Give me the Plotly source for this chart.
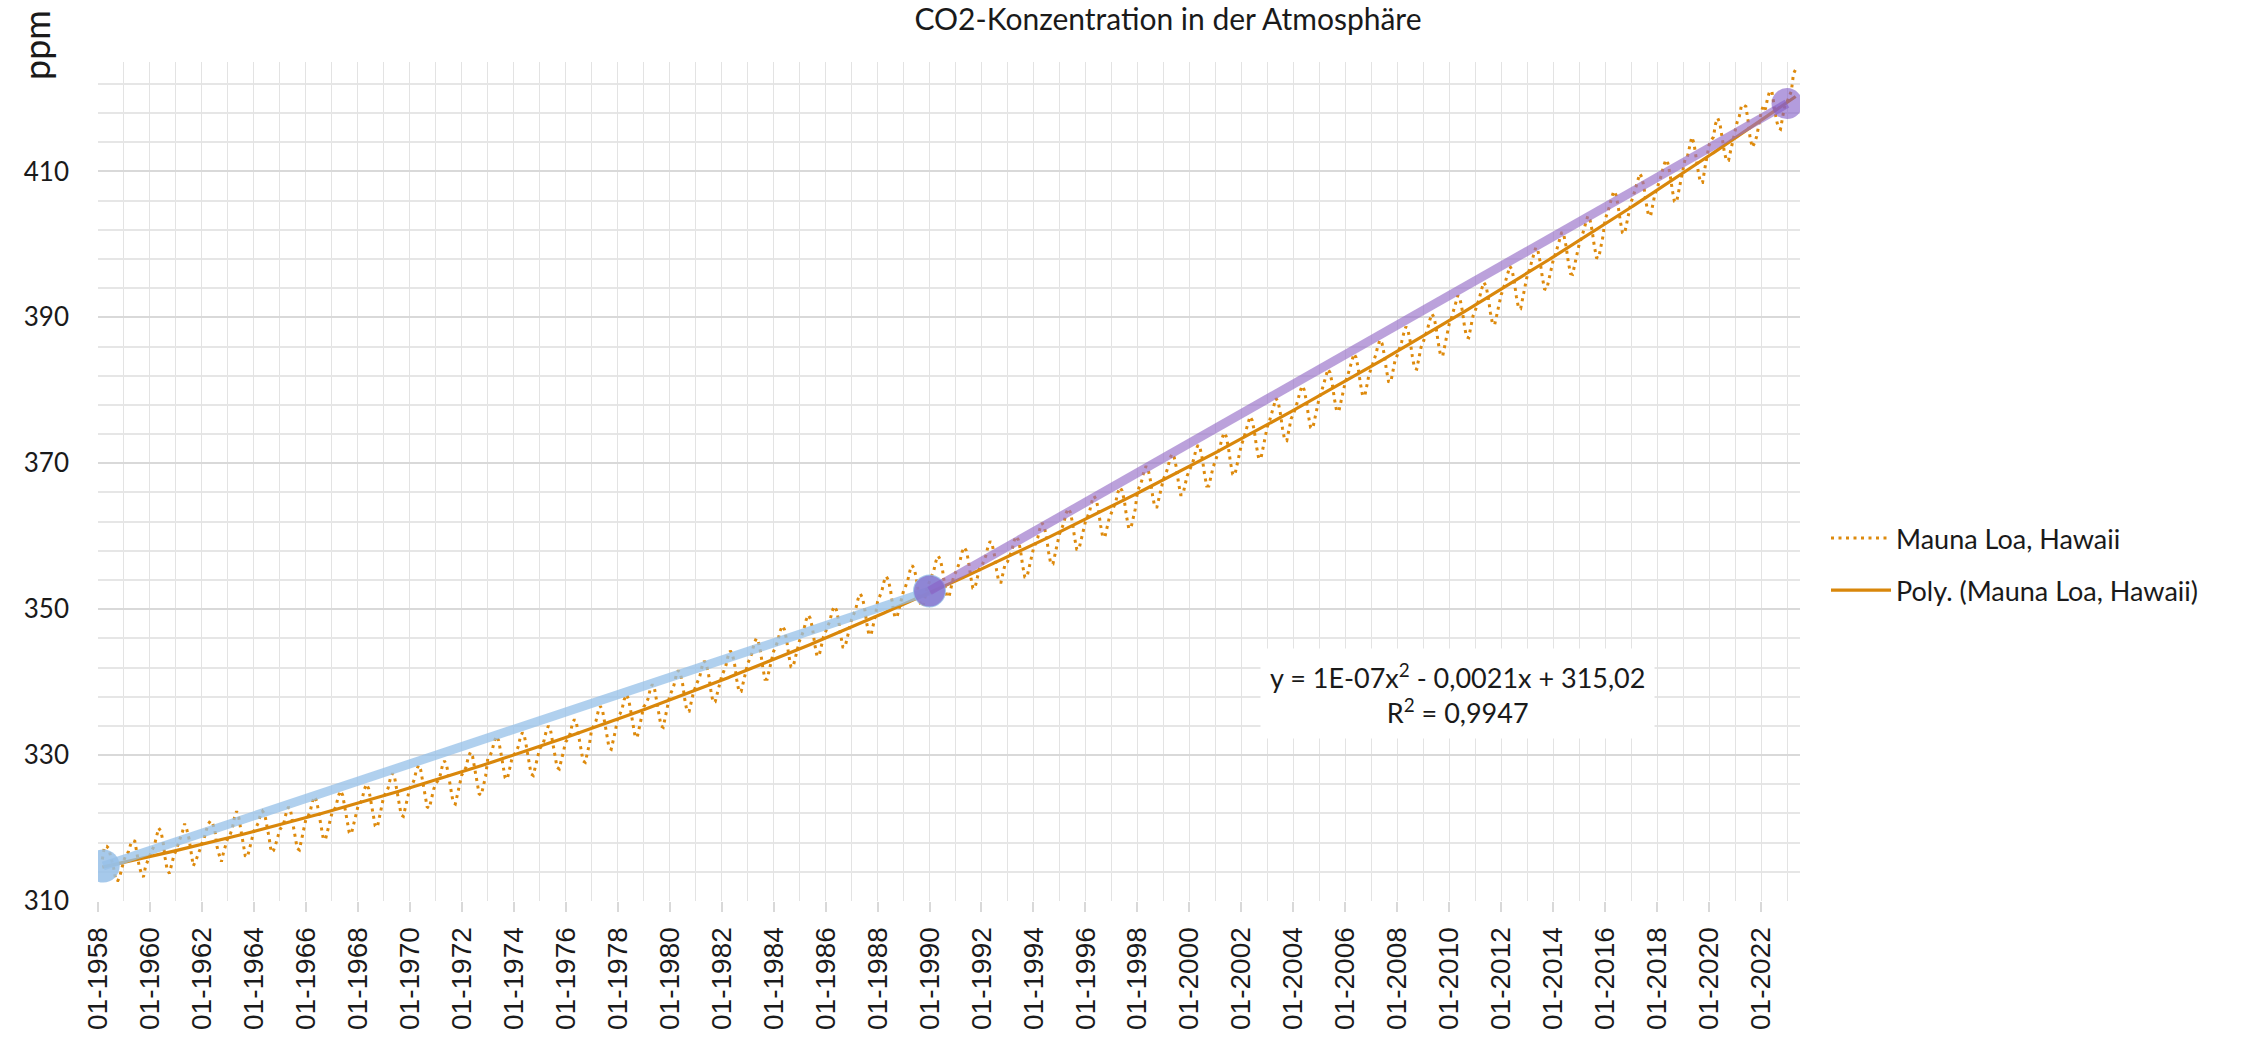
import numpy as np
import plotly.graph_objects as go

# ---------------- data (monthly CO2, ppm, Mauna Loa) ----------------
start_year = 1958
start_month = 3  # March 1958

co2_1950s = [315.7, 317.5, 317.5, 317.2, 315.9, 314.9, 313.2, 312.7, 313.3, 314.7,
             315.6, 316.4, 316.7, 317.7, 318.3, 318.2, 316.5, 314.8, 313.8, 313.3, 314.8, 315.6]
co2_1960s = [316.4, 317.0, 317.6, 319.0, 320.0, 319.6, 318.2, 315.9, 314.2, 313.8, 315.0, 316.2,
             316.9, 317.7, 318.5, 319.5, 320.6, 319.8, 318.6, 316.8, 314.8, 315.4, 316.1, 317.0,
             317.9, 318.6, 319.7, 320.6, 321.0, 320.6, 319.6, 317.4, 316.3, 315.4, 316.7, 317.7,
             318.7, 319.1, 319.9, 321.4, 322.3, 321.5, 319.7, 317.8, 316.2, 316.0, 317.1, 318.3,
             319.6, 320.1, 320.7, 321.8, 322.3, 321.9, 320.4, 318.7, 316.7, 316.9, 317.7, 318.7,
             319.8, 320.2, 320.9, 322.2, 322.9, 322.3, 320.7, 318.7, 317.2, 317.0, 318.3, 319.6,
             321.2, 321.6, 322.3, 323.6, 324.3, 323.7, 322.1, 320.1, 318.6, 318.4, 319.7, 321.0,
             322.0, 322.4, 323.1, 324.4, 325.1, 324.5, 322.9, 320.9, 319.4, 319.2, 320.5, 321.8,
             322.9, 323.3, 324.0, 325.3, 326.0, 325.4, 323.8, 321.8, 320.3, 320.1, 321.4, 322.7,
             324.4, 324.8, 325.5, 326.8, 327.5, 326.9, 325.3, 323.3, 321.8, 321.6, 322.9, 324.2]
co2_1970s = [325.5, 325.9, 326.6, 327.9, 328.6, 328.0, 326.4, 324.4, 322.9, 322.7, 324.0, 325.3,
             326.1, 326.5, 327.2, 328.5, 329.2, 328.6, 327.0, 325.0, 323.5, 323.3, 324.6, 325.9,
             327.3, 327.7, 328.4, 329.7, 330.4, 329.8, 328.2, 326.2, 324.7, 324.5, 325.8, 327.1,
             329.5, 329.9, 330.6, 331.9, 332.6, 332.0, 330.4, 328.4, 326.9, 326.7, 328.0, 329.3,
             330.0, 330.4, 331.1, 332.4, 333.1, 332.5, 330.9, 328.9, 327.4, 327.2, 328.5, 329.8,
             330.9, 331.3, 332.0, 333.3, 334.0, 333.4, 331.8, 329.8, 328.3, 328.1, 329.4, 330.7,
             331.8, 332.2, 332.9, 334.2, 334.9, 334.3, 332.7, 330.7, 329.2, 329.0, 330.3, 331.6,
             333.6, 334.0, 334.7, 336.0, 336.7, 336.1, 334.5, 332.5, 331.0, 330.8, 332.1, 333.4,
             335.2, 335.6, 336.3, 337.6, 338.3, 337.7, 336.1, 334.1, 332.6, 332.4, 333.7, 335.0,
             336.6, 337.0, 337.7, 339.0, 339.7, 339.1, 337.5, 335.5, 334.0, 333.8, 335.1, 336.4]
co2_1980s = [338.1, 338.8, 339.6, 340.9, 341.6, 341.1, 339.7, 337.6, 336.0, 336.0, 337.3, 338.6,
             339.4, 340.1, 340.9, 342.2, 342.9, 342.4, 341.0, 338.9, 337.3, 337.3, 338.6, 339.9,
             340.8, 341.5, 342.3, 343.6, 344.3, 343.8, 342.4, 340.3, 338.7, 338.7, 340.0, 341.3,
             342.5, 343.2, 344.0, 345.3, 346.0, 345.5, 344.1, 342.0, 340.4, 340.4, 341.7, 343.0,
             344.2, 344.9, 345.7, 347.0, 347.7, 347.2, 345.8, 343.7, 342.1, 342.1, 343.4, 344.7,
             345.7, 346.4, 347.2, 348.5, 349.2, 348.7, 347.3, 345.2, 343.6, 343.6, 344.9, 346.2,
             346.9, 347.6, 348.4, 349.7, 350.4, 349.9, 348.5, 346.4, 344.8, 344.8, 346.1, 347.4,
             348.6, 349.3, 350.1, 351.4, 352.1, 351.6, 350.2, 348.1, 346.5, 346.5, 347.8, 349.1,
             351.0, 351.7, 352.5, 353.8, 354.5, 354.0, 352.6, 350.5, 348.9, 348.9, 350.2, 351.5,
             352.5, 353.2, 354.0, 355.3, 356.0, 355.5, 354.1, 352.0, 350.4, 350.4, 351.7, 353.0]
co2_1990s = [353.8, 354.5, 355.3, 356.6, 357.3, 356.8, 355.4, 353.3, 351.7, 351.7, 353.0, 354.3,
             355.0, 355.7, 356.5, 357.8, 358.5, 358.0, 356.6, 354.5, 352.9, 352.9, 354.2, 355.5,
             355.8, 356.5, 357.3, 358.6, 359.3, 358.8, 357.4, 355.3, 353.7, 353.7, 355.0, 356.3,
             356.5, 357.2, 358.0, 359.3, 360.0, 359.5, 358.1, 356.0, 354.4, 354.4, 355.7, 357.0,
             358.3, 359.0, 359.8, 361.1, 361.8, 361.3, 359.9, 357.8, 356.2, 356.2, 357.5, 358.8,
             360.3, 361.0, 361.8, 363.1, 363.8, 363.3, 361.9, 359.8, 358.2, 358.2, 359.5, 360.8,
             362.0, 362.7, 363.5, 364.8, 365.5, 365.0, 363.6, 361.5, 359.9, 359.9, 361.2, 362.5,
             363.2, 363.9, 364.7, 366.0, 366.7, 366.2, 364.8, 362.7, 361.1, 361.1, 362.4, 363.7,
             366.1, 366.8, 367.6, 368.9, 369.6, 369.1, 367.7, 365.6, 364.0, 364.0, 365.3, 366.6,
             367.8, 368.5, 369.3, 370.6, 371.3, 370.8, 369.4, 367.3, 365.7, 365.7, 367.0, 368.3]
co2_2000s = [369.0, 369.7, 370.5, 371.8, 372.5, 372.0, 370.6, 368.5, 366.9, 366.9, 368.2, 369.5,
             370.3, 371.1, 372.1, 373.3, 374.2, 373.7, 372.2, 370.1, 368.5, 368.4, 369.9, 371.4,
             372.5, 373.3, 374.3, 375.5, 376.4, 375.9, 374.4, 372.3, 370.7, 370.6, 372.1, 373.6,
             375.0, 375.8, 376.8, 378.0, 378.9, 378.4, 376.9, 374.8, 373.2, 373.1, 374.6, 376.1,
             376.7, 377.5, 378.5, 379.7, 380.6, 380.1, 378.6, 376.5, 374.9, 374.8, 376.3, 377.8,
             379.0, 379.8, 380.8, 382.0, 382.9, 382.4, 380.9, 378.8, 377.2, 377.1, 378.6, 380.1,
             381.1, 381.9, 382.9, 384.1, 385.0, 384.5, 383.0, 380.9, 379.3, 379.2, 380.7, 382.2,
             383.0, 383.8, 384.8, 386.0, 386.9, 386.4, 384.9, 382.8, 381.2, 381.1, 382.6, 384.1,
             384.8, 385.6, 386.6, 387.8, 388.7, 388.2, 386.7, 384.6, 383.0, 382.9, 384.4, 385.9,
             386.6, 387.4, 388.4, 389.6, 390.5, 390.0, 388.5, 386.4, 384.8, 384.7, 386.2, 387.7]
co2_2010s = [389.1, 389.9, 390.9, 392.1, 393.0, 392.5, 391.0, 388.9, 387.3, 387.2, 388.7, 390.2,
             390.9, 391.7, 392.7, 393.9, 394.8, 394.3, 392.8, 390.7, 389.1, 389.0, 390.5, 392.0,
             393.1, 393.9, 394.9, 396.1, 397.0, 396.5, 395.0, 392.9, 391.3, 391.2, 392.7, 394.2,
             395.7, 396.5, 397.5, 398.7, 399.6, 399.1, 397.6, 395.5, 393.9, 393.8, 395.3, 396.8,
             397.8, 398.6, 399.6, 400.8, 401.7, 401.2, 399.7, 397.6, 396.0, 395.9, 397.4, 398.9,
             400.0, 400.8, 401.8, 403.0, 403.9, 403.4, 401.9, 399.8, 398.2, 398.1, 399.6, 401.1,
             403.4, 404.2, 405.2, 406.4, 407.3, 406.8, 405.3, 403.2, 401.6, 401.5, 403.0, 404.5,
             405.8, 406.6, 407.6, 408.8, 409.7, 409.2, 407.7, 405.6, 404.0, 403.9, 405.4, 406.9,
             407.7, 408.5, 409.5, 410.7, 411.6, 411.1, 409.6, 407.5, 405.9, 405.8, 407.3, 408.8,
             410.8, 411.8, 412.0, 413.3, 414.7, 413.9, 411.8, 410.0, 408.5, 408.5, 410.3, 411.8]
co2_2020s = [413.6, 414.3, 414.7, 416.5, 417.3, 416.6, 414.6, 412.8, 411.5, 411.5, 412.9, 414.3,
             415.5, 416.8, 417.6, 419.1, 419.1, 418.9, 417.0, 414.5, 413.3, 413.9, 414.8, 416.4,
             418.0, 419.0, 418.5, 420.0, 421.0, 421.0, 418.9, 417.2, 416.0, 415.8, 417.5, 419.0,
             419.5, 420.4, 421.0, 423.4, 424.0]

# highlighted segments (start, 1990, end)
seg_years = [1958.2, 1990.0, 2023.0]
seg_ppm = [314.8, 352.5, 419.3]

# axis ticks
x_tick_years = list(range(1958, 2023, 2))
x_tick_labels = [f"01-{y}" for y in x_tick_years]
y_ticks = [310, 330, 350, 370, 390, 410]

title_text = "CO2-Konzentration in der Atmosphäre"
series_name = "Mauna Loa, Hawaii"
trend_name = "Poly. (Mauna Loa, Hawaii)"
eq_text = "y = 1E-07x<sup>2</sup> - 0,0021x + 315,02<br>R<sup>2</sup> = 0,9947"

# ---------------- build ----------------
values = np.array(co2_1950s + co2_1960s + co2_1970s + co2_1980s + co2_1990s + co2_2000s + co2_2010s + co2_2020s)
x = start_year + (start_month - 1) / 12 + np.arange(len(values)) / 12.0

coef = np.polyfit(x - 1990, values, 2)
trend = np.polyval(coef, x - 1990)

ORANGE = "#DE8A0C"
TXT = "#1a1a1a"
F_MAIN = "Lato, 'Open Sans', sans-serif"
F_X = "'Liberation Sans', Arial, sans-serif"

fig = go.Figure()
fig.add_trace(go.Scatter(x=x, y=values, mode="lines", name=series_name,
                         line=dict(color=ORANGE, width=3, dash="3px,4.5px"),
                         legendgroup="a"))
fig.add_trace(go.Scatter(x=x, y=trend, mode="lines", name=trend_name,
                         line=dict(color="#D9870B", width=3.2), legendgroup="b"))
# blue band
fig.add_trace(go.Scatter(x=seg_years[:2], y=seg_ppm[:2], mode="lines",
                         line=dict(color="rgba(150,192,232,0.75)", width=9),
                         showlegend=False, hoverinfo="skip"))
fig.add_trace(go.Scatter(x=seg_years[:2], y=seg_ppm[:2], mode="markers",
                         marker=dict(size=33, color="rgba(150,192,232,0.85)", line=dict(width=0)),
                         showlegend=False, hoverinfo="skip"))
# purple band
fig.add_trace(go.Scatter(x=seg_years[1:], y=seg_ppm[1:], mode="lines",
                         line=dict(color="rgba(150,110,200,0.65)", width=9),
                         showlegend=False, hoverinfo="skip"))
fig.add_trace(go.Scatter(x=seg_years[1:], y=seg_ppm[1:], mode="markers",
                         marker=dict(size=31, color="rgba(128,90,198,0.6)", line=dict(width=0)),
                         showlegend=False, hoverinfo="skip"))

W, H = 2258, 1038
L, R, T, B = 98, 458, 62, 137
pw, ph = W - L - R, H - T - B

fig.add_annotation(x=2010.3, y=338.5, xref="x", yref="y", text=eq_text, showarrow=False,
                   font=dict(family=F_MAIN, size=27, color=TXT), align="center",
                   bgcolor="white", borderpad=9)
fig.add_annotation(x=(36 - L) / pw, y=(H - B - 45) / ph, xref="paper", yref="paper",
                   xanchor="center", yanchor="middle", text="ppm", showarrow=False,
                   textangle=-90, font=dict(family=F_MAIN, size=36, color=TXT))

fig.update_layout(
    width=W, height=H,
    margin=dict(l=L, r=R, t=T, b=B, autoexpand=False),
    paper_bgcolor="white", plot_bgcolor="white",
    title=dict(text=title_text, x=1168 / W, xref="container", xanchor="center",
               y=1 - 19 / H, yref="container", yanchor="middle",
               font=dict(family=F_MAIN, size=30, color=TXT)),
    showlegend=True,
    legend=dict(x=(1826 - L) / pw, y=(H - B - 514) / ph, xanchor="left", yanchor="top",
                font=dict(family=F_MAIN, size=27, color=TXT),
                itemwidth=60, tracegroupgap=14, traceorder="grouped",
                bgcolor="rgba(0,0,0,0)"),
    xaxis=dict(range=[1958, 2023.5], tickmode="array", tickvals=x_tick_years, ticktext=x_tick_labels,
               tickangle=-90, tickfont=dict(family=F_X, size=28, color=TXT),
               showgrid=True, gridcolor="#E3E3E3", gridwidth=1.3,
               ticks="outside", ticklen=10, tickcolor="#D9D9D9", tickwidth=1.5,
               ticklabelstandoff=4,
               minor=dict(tickmode="linear", tick0=1958, dtick=1, showgrid=True,
                          gridcolor="#E3E3E3", gridwidth=1.3, ticks=""),
               zeroline=False, showline=False, fixedrange=True),
    yaxis=dict(range=[310, 425], tickmode="array", tickvals=y_ticks,
               tickfont=dict(family=F_MAIN, size=26, color=TXT),
               showgrid=True, gridcolor="#D9D9D9", gridwidth=2,
               ticks="", ticklabelstandoff=28,
               minor=dict(tickmode="linear", tick0=310, dtick=4, showgrid=True,
                          gridcolor="#E6E6E6", gridwidth=1.5),
               zeroline=False, showline=False, fixedrange=True),
)

fig.write_html("out.html", config={"displayModeBar": False},
               post_script="document.body.style.margin='0';document.body.style.overflow='hidden';")
